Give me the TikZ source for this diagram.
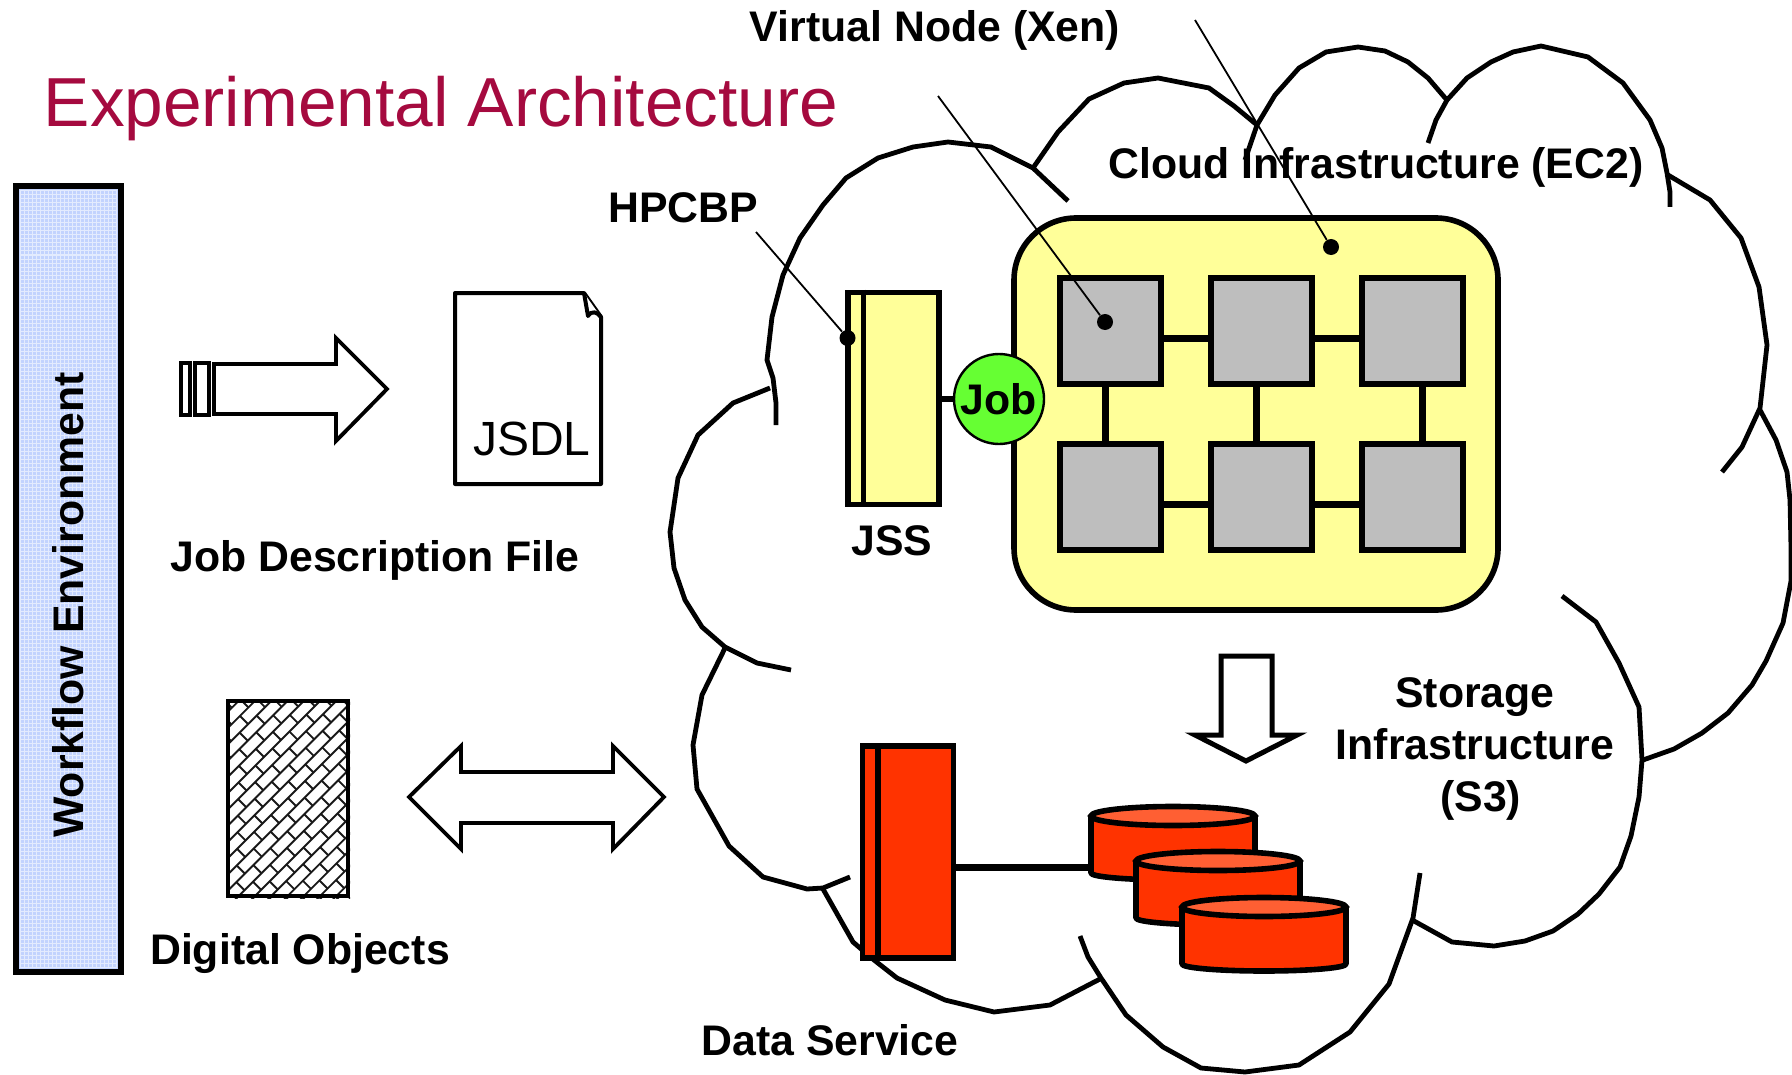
\documentclass[tikz,border=0pt]{standalone}
\usepackage{fontspec}
\usepackage{xcolor}
\usepackage{tikz}
\usetikzlibrary{shapes,arrows}
\setmainfont{Liberation Sans}
\definecolor{wfblue}{HTML}{C2D3FE}
\definecolor{paleyellow}{HTML}{FFFF99}
\definecolor{jobgreen}{HTML}{66FF33}
\definecolor{vmgrey}{HTML}{BEBEBE}
\definecolor{diskred}{HTML}{FF3300}
\definecolor{disktop}{HTML}{FF5F33}
\definecolor{titlered}{HTML}{A50A3F}
\tikzstyle{label} = [font=\fontsize{21.4pt}{26pt}\selectfont\bfseries, inner sep=0pt, align=center]
\tikzstyle{title} = [font=\fontsize{34.7pt}{40pt}\selectfont, text=titlered, inner sep=0pt]
\tikzstyle{cloud line} = [draw, line width=2.4pt, line join=miter]
\tikzstyle{leader} = [draw, line width=0.9pt]
\tikzstyle{block arrow} = [draw, line width=1.9pt, fill=white, miter limit=10]
\tikzstyle{link} = [draw, line width=3.5pt]
\tikzstyle{hatch} = [draw, line width=0.95pt, black!90]
\tikzstyle{dither} = [draw, line width=0.5pt, white!55!wfblue]
\tikzstyle{dot} = [circle, fill=black, inner sep=0pt, minimum size=8pt]
\tikzstyle{vm} = [rectangle, draw, line width=2.8pt, fill=vmgrey, minimum width=50.5pt, minimum height=53pt, inner sep=0pt]
\tikzstyle{service} = [rectangle, draw, line width=2.8pt, minimum width=45.5pt, minimum height=106pt, inner sep=0pt]
\tikzstyle{disk body} = [draw, line width=2.8pt, fill=diskred, line join=round]
\tikzstyle{disk end} = [draw, line width=2.8pt, fill=disktop]
% #1 name, #2 centre of the top ellipse
\newcommand{\storagedisk}[2]{
    \coordinate (#1) at (#2);
    \path [disk body] ([xshift=-41pt]#1) -- ([xshift=-41pt,yshift=-28.5pt]#1) arc (180:360:41pt and 3.5pt) -- ([xshift=41pt]#1) -- cycle;
    \path [disk end] (#1) ellipse (41pt and 4.75pt);
}

\begin{document}
\begin{tikzpicture}[x=0.5pt, y=-0.5pt]
        \useasboundingbox (0,0) rectangle (1792,1075);

        % Cloud outline
        \path [cloud line] (776,425) -- (776,403) -- (773,378) -- (767,360) -- (772,317) -- (783,275) -- (800,238) -- (823,205) -- (846,178) -- (878,158) -- (913,147) -- (948,142) -- (991,147) -- (1033,168) -- (1068,201);
        \path [cloud line] (1033,168) -- (1058,132) -- (1089,99) -- (1124,83) -- (1158,78) -- (1209,88) -- (1234,106) -- (1257,125);
        \path [cloud line] (1245,160) -- (1257,125) -- (1275,95) -- (1299,68) -- (1326,52) -- (1358,47) -- (1385,51) -- (1408,62) -- (1428,78) -- (1446,99);
        \path [cloud line] (1428,143) -- (1436,120) -- (1447,100) -- (1467,78) -- (1491,62) -- (1513,52) -- (1541,46) -- (1588,57) -- (1623,83) -- (1650,120) -- (1662,148) -- (1667,173) -- (1670,192) -- (1670,207);
        \path [cloud line] (1668,175) -- (1710,200) -- (1741,238) -- (1759,287) -- (1767,345) -- (1760,408) -- (1742,447) -- (1722,472);
        \path [cloud line] (1760,410) -- (1776,440) -- (1787,472) -- (1790,500) -- (1791,548) -- (1791,581) -- (1783,623) -- (1766,661) -- (1752,685) -- (1728,713) -- (1702,733) -- (1674,749) -- (1643,760);
        \path [cloud line] (1562,596) -- (1596,622) -- (1619,663) -- (1639,707) -- (1642,760) -- (1639,797) -- (1631,836) -- (1620,867) -- (1599,894) -- (1578,914) -- (1553,931) -- (1525,941) -- (1494,946) -- (1452,942) -- (1414,921);
        \path [cloud line] (1420,873) -- (1413,918) -- (1389,984) -- (1350,1032) -- (1299,1065) -- (1245,1072) -- (1201,1068) -- (1163,1047) -- (1126,1015) -- (1101,978) -- (1088,957) -- (1080,936);
        \path [cloud line] (1100,979) -- (1050,1005) -- (994,1012) -- (945,1000) -- (897,978) -- (874,960) -- (853,942) -- (823,889);
        \path [cloud line] (850,877) -- (823,888) -- (807,889) -- (763,877) -- (729,846) -- (697,789) -- (693,745) -- (702,695) -- (725,648);
        \path [cloud line] (791,670) -- (757,663) -- (725,647) -- (702,627) -- (685,600) -- (674,568) -- (670,532) -- (678,478) -- (698,435) -- (733,403) -- (770,388);

        % Left side shapes
        \node [rectangle, draw, line width=3.1pt, fill=wfblue, minimum width=52.5pt, minimum height=393pt, inner sep=0pt] (workflow) at (68.5,579) {};
        \foreach \gx in {20,24,...,118}
            \path [dither] (\gx,190) -- (\gx,968);
        \foreach \gy in {191,195,...,968}
            \path [dither] (20,\gy) -- (117,\gy);
        \node [rotate=90, label] (workflowlabel) at (68,605) {Workflow Environment};
        \path [draw, line width=1.7pt, fill=white] (181,363) rectangle (190,415);
        \path [draw, line width=1.7pt, fill=white] (195,363) rectangle (209,415);
        \path [block arrow] (214,364) -- (336,364) -- (336,338) -- (387,389) -- (336,441) -- (336,414) -- (214,414) -- cycle;

        % Job description file
        \path [draw, line width=2pt, fill=white, line join=round] (455,293) -- (584,293) -- (601,317) -- (601,484) -- (455,484) -- cycle;
        \path [draw, line width=2pt, fill=white, line join=round] (584,293) -- (588,316) .. controls (592,310) and (597,312) .. (601,317);
        \node [font=\fontsize{24pt}{28pt}\selectfont, inner sep=0pt] (jsdl) at (532,439) {JSDL};
        \node [label] (jdf) at (375,560.5) {Job Description File};

        % Digital objects
        \begin{scope}
            \clip (226,699) rectangle (350,898);
            \begin{scope}[shift={(288,798)}, rotate=45]
                \foreach \i in {-15,...,15} {
                    \path [hatch] (-170,{\i*11.5}) -- (170,{\i*11.5});
                    \foreach \j in {-8,...,8}
                        \path [hatch] ({\j*24+mod(abs(\i),2)*12},{\i*11.5}) -- ++(0,11.5);
                }
            \end{scope}
        \end{scope}
        \node [rectangle, draw, line width=2.2pt, minimum width=60pt, minimum height=97.5pt, inner sep=0pt] (objects) at (288,798.5) {};
        \node [label] (objectslabel) at (300,954) {Digital Objects};
        \path [block arrow] (409,797) -- (461,746) -- (461,772) -- (613,772) -- (613,746) -- (664,797) -- (613,849) -- (613,823) -- (461,823) -- (461,849) -- cycle;

        % Title
        \node [title] (heading) at (441,108.5) {Experimental Architecture};

        % Cloud infrastructure
        \node [rectangle, draw, line width=2.8pt, fill=paleyellow, rounded corners=31pt, minimum width=242pt, minimum height=196pt, inner sep=0pt] (ec2) at (1256,414) {};
        \node [service, fill=paleyellow] (jss) at (893.5,398.5) {};
        \path [draw, line width=2.8pt] ([xshift=9.15pt]jss.north west) -- ([xshift=9.15pt]jss.south west);
        \node [vm] (vm1) at (1110.5,331) {};
        \node [vm, right of=vm1, node distance=75.5pt] (vm2) {};
        \node [vm, right of=vm2, node distance=75.5pt] (vm3) {};
        \node [vm, below of=vm1, node distance=83pt] (vm4) {};
        \node [vm, right of=vm4, node distance=75.5pt] (vm5) {};
        \node [vm, right of=vm5, node distance=75.5pt] (vm6) {};
        \node [circle, draw, line width=1.2pt, fill=jobgreen, minimum size=45pt, inner sep=0pt, font=\fontsize{21.4pt}{26pt}\selectfont\bfseries] (job) at (999,399) {Job};

        % Links between nodes
        \path [link, line width=2.8pt] (jss.east |- job) -- (job.west);
        \path [link] ([yshift=-3.5pt]vm1.east) -- ([yshift=-3.5pt]vm2.west);
        \path [link] ([yshift=-3.5pt]vm2.east) -- ([yshift=-3.5pt]vm3.west);
        \path [link] ([yshift=-3.5pt]vm4.east) -- ([yshift=-3.5pt]vm5.west);
        \path [link] ([yshift=-3.5pt]vm5.east) -- ([yshift=-3.5pt]vm6.west);
        \path [link] ([xshift=-2.75pt]vm1.south) -- ([xshift=-2.75pt]vm4.north);
        \path [link] ([xshift=-2.75pt]vm2.south) -- ([xshift=-2.75pt]vm5.north);
        \path [link] ([xshift=4.75pt]vm3.south) -- ([xshift=4.75pt]vm6.north);

        % Storage
        \path [block arrow, line width=2.5pt] (1221,656) -- (1272,656) -- (1272,735) -- (1297,735) -- (1246,761) -- (1195,735) -- (1221,735) -- cycle;
        \node [service, fill=diskred, minimum height=106pt] (data) at (908,852) {};
        \path [draw, line width=2.8pt] ([xshift=9.15pt]data.north west) -- ([xshift=9.15pt]data.south west);
        \coordinate (linkend) at (1091,867);
        \path [link] (data.east |- linkend) -- (linkend);
        \storagedisk{disk1}{1173,816}
        \storagedisk{disk2}{1218,861}
        \storagedisk{disk3}{1264,907}

        % Leader lines with their dots
        \node [dot] (hpcbpdot) at (847.5,338) {};
        \node [dot] (vmdot) at (1105,322) {};
        \node [dot] (cloudot) at (1331,247) {};
        \coordinate (hpcbpend) at (756,232);
        \coordinate (vmend) at (938,96);
        \coordinate (cloudend) at (1195,20);
        \path [leader] (hpcbpend) -- (hpcbpdot);
        \path [leader] (vmend) -- (vmdot);
        \path [leader] (cloudend) -- (cloudot);

        % Labels
        \node [label] (hpcbp) at (683,208) {HPCBP};
        \node [label] (xen) at (935,30.5) {Virtual Node (Xen)};
        \node [label] (ec2label) at (1376,167.5) {Cloud Infrastructure (EC2)};
        \node [label] (jsslabel) at (892,541) {JSS};
        \node [label] (s3label) at (1475,748.5) {Storage\\Infrastructure\\\hspace*{5.7pt}(S3)};
        \node [label] (datalabel) at (830,1040) {Data Service};
    \end{tikzpicture}
\end{document}
